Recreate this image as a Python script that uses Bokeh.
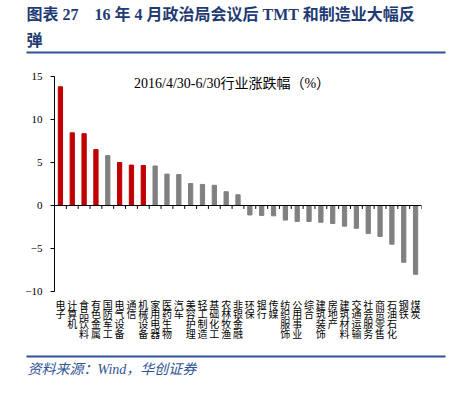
from bokeh.plotting import figure
from bokeh.models import (ColumnDataSource, Range1d, FactorRange, FixedTicker, Span, Label)
from bokeh.layouts import column, row
from bokeh.embed import file_html
from bokeh.resources import INLINE

# ---- data ----
categories = ["电子", "计算机", "食品饮料", "有色金属", "国防军工", "电气设备", "通信", "机械设备",
              "家用电器", "医药生物", "汽车", "美容护理", "轻工制造", "基础化工", "农林牧渔", "非银金融",
              "环保", "银行", "传媒", "纺织服饰", "公用事业", "综合", "建筑装饰", "房地产",
              "建筑材料", "交通运输", "社会服务", "商贸零售", "石油石化", "钢铁", "煤炭"]
values = [13.8, 8.45, 8.35, 6.5, 5.8, 5.0, 4.7, 4.65,
          4.6, 3.65, 3.6, 2.55, 2.45, 2.35, 1.6, 1.25,
          -1.1, -1.15, -1.2, -1.7, -1.85, -1.85, -1.95, -2.1,
          -2.4, -2.65, -3.25, -3.6, -4.5, -6.6, -8.0]
highlight = [1, 1, 1, 1, 0, 1, 1, 1,
             0, 0, 0, 0, 0, 0, 0, 0,
             0, 0, 0, 0, 0, 0, 0, 0,
             0, 0, 0, 0, 0, 0, 0]
y_ticks = [-10, -5, 0, 5, 10, 15]

title_line1 = "图表 27　16 年 4 月政治局会议后 TMT 和制造业大幅反"
title_line2 = "弹"
chart_note = "2016/4/30-6/30行业涨跌幅（%）"
source_text = "资料来源：Wind，华创证券"

RED = "#C00000"
GRAY = "#808080"
NAVY = "#1F3B73"
RULE = "#2F5496"
W = 453

# ---- title figure ----
TH = 56
t = figure(width=W, height=TH, x_range=Range1d(0, W), y_range=Range1d(TH, 0),
           output_backend="svg", toolbar_location=None, min_border=0)
t.axis.visible = False
t.grid.visible = False
t.outline_line_color = None
for txt, yy in [(title_line1, 14), (title_line2, 40)]:
    t.add_layout(Label(x=26, y=yy, text=txt, text_font="Liberation Serif, Noto Sans CJK SC",
                       text_font_style="bold", text_font_size="16px", text_color=NAVY,
                       text_baseline="middle", text_align="left"))
t.segment(x0=[26], y0=[52], x1=[445], y1=[52], line_color=RULE, line_width=2)

# ---- chart figure ----
factors = ["\n".join(c) for c in categories]
colors = [RED if h else GRAY for h in highlight]
src = ColumnDataSource(dict(x=factors, top=values, color=colors))

p = figure(width=W, height=294, x_range=FactorRange(*factors, range_padding=0),
           y_range=Range1d(-10, 15), output_backend="svg", toolbar_location=None,
           min_border_left=54, min_border_right=32, min_border_top=20, min_border_bottom=59)
p.vbar(x="x", top="top", width=0.36, color="color", source=src)

# zero line with tick marks between categories
p.add_layout(Span(location=0, dimension="width", line_color="black", line_width=1))
bounds = list(range(1, len(categories) + 1))
p.segment(x0=bounds, y0=[0] * len(bounds), x1=bounds, y1=[-0.4] * len(bounds),
          line_color="black", line_width=1)

p.grid.visible = False
p.outline_line_color = None
p.yaxis.ticker = FixedTicker(ticks=y_ticks)
p.yaxis.minor_tick_line_color = None
p.yaxis.major_tick_in = 0
p.yaxis.major_tick_out = 4
p.yaxis.axis_line_color = "black"
p.yaxis.major_label_text_font = "Liberation Serif"
p.yaxis.major_label_text_font_size = "11px"
p.yaxis.major_label_text_color = "black"
p.yaxis.major_label_standoff = 8

p.xaxis.axis_line_color = None
p.xaxis.major_tick_line_color = None
p.xaxis.major_tick_out = 0
p.xaxis.major_tick_in = 0
p.xaxis.major_label_standoff = 8
p.xaxis.major_label_text_font = "Liberation Serif, Noto Sans CJK SC"
p.xaxis.major_label_text_font_size = "10px"
p.xaxis.major_label_text_color = "black"
p.xaxis.major_label_text_line_height = 0.9

p.add_layout(Label(x=15.0, y=14.2, text=chart_note, text_font="Liberation Serif, Noto Sans CJK SC",
                   text_font_size="14px", text_color="black", text_align="center",
                   text_baseline="middle"))

# ---- footer figure ----
FH = 43
f = figure(width=W, height=FH, x_range=Range1d(0, W), y_range=Range1d(FH, 0),
           output_backend="svg", toolbar_location=None, min_border=0)
f.axis.visible = False
f.grid.visible = False
f.outline_line_color = None
f.segment(x0=[26], y0=[6], x1=[445], y1=[6], line_color=RULE, line_width=2)
f.add_layout(Label(x=27, y=19, text=source_text, text_font="Liberation Serif, Noto Sans CJK SC",
                   text_font_style="italic", text_font_size="14px", text_color=RULE,
                   text_baseline="middle", text_align="left"))

layout = column(t, row(p), f, spacing=0)
open("out.html", "w").write(file_html(layout, INLINE))
